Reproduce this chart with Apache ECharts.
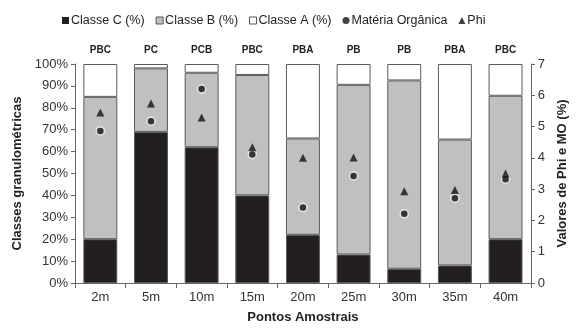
<!DOCTYPE html>
<html><head><meta charset="utf-8">
<script src="https://cdn.jsdelivr.net/npm/echarts@6/dist/echarts.min.js"></script>
<style>html,body{margin:0;padding:0;background:#fff}#c{width:577px;height:329px}</style>
</head><body><div id="c"></div>
<script>
const categories = ['2m','5m','10m','15m','20m','25m','30m','35m','40m'];
const topLabels = ['PBC','PC','PCB','PBC','PBA','PB','PB','PBA','PBC'];
const classeC = [20, 69, 62, 40, 22, 13, 6.5, 8, 20];
const classeB = [65, 29, 34, 55, 44, 77.5, 86, 57.5, 65.5];
const classeA = [15, 2, 4, 5, 34, 9.5, 7.5, 34.5, 14.5];
const materiaOrganica = [4.86, 5.17, 6.2, 4.11, 2.41, 3.42, 2.21, 2.71, 3.32];
const phi = [5.45, 5.74, 5.29, 4.34, 4.0, 4.01, 2.93, 2.97, 3.5];
const leftTicks = [0,10,20,30,40,50,60,70,80,90,100];

const font = 'Liberation Sans, Arial, sans-serif';
const chart = echarts.init(document.getElementById('c'), null, {renderer:'canvas'});
const barStyle = (c) => ({color:c, borderColor:'#5a5a5a', borderWidth:1});
chart.setOption({
  animation:false,
  textStyle:{fontFamily:font},
  legend:{
    top:9, left:57, itemGap:11, itemWidth:7, itemHeight:7,
    textStyle:{fontFamily:font, fontSize:12.5, color:'#222', padding:[0,0,0,-3]},
    data:[
      {name:'Classe C (%)', icon:'rect', itemStyle:{color:'#231f20', borderColor:'#231f20', borderWidth:0}},
      {name:'Classe B (%)', icon:'rect', itemStyle:{color:'#c0c0c0', borderColor:'#555', borderWidth:1}},
      {name:'Classe A (%)', icon:'rect', itemStyle:{color:'#fff', borderColor:'#555', borderWidth:1}},
      {name:'Matéria Orgânica', icon:'circle', itemStyle:{color:'#111', borderWidth:0}},
      {name:'Phi', icon:'triangle', itemStyle:{color:'#111', borderWidth:0}}
    ]
  },
  grid:{left:75, right:44, top:64, bottom:43},
  xAxis:[{
    type:'category', data:categories,
    name:'Pontos Amostrais', nameLocation:'middle', nameGap:28,
    nameTextStyle:{fontFamily:font, fontSize:13, fontWeight:'bold', color:'#222'},
    axisLine:{lineStyle:{color:'#666'}},
    axisTick:{show:true, length:5, lineStyle:{color:'#666'}},
    axisLabel:{fontFamily:font, fontSize:13, color:'#333', margin:8}
  },{
    type:'category', data:topLabels, position:'top',
    axisLine:{show:false}, axisTick:{show:false},
    axisLabel:{fontFamily:font, fontSize:10, fontWeight:'bold', color:'#222', margin:9}
  }],
  yAxis:[{
    type:'value', min:0, max:100, interval:10,
    name:'Classes granulométricas', nameLocation:'middle', nameGap:38, nameRotate:90,
    nameTextStyle:{fontFamily:font, fontSize:13, fontWeight:'bold', color:'#222'},
    axisLine:{show:true, lineStyle:{color:'#666'}},
    axisTick:{show:true, length:4, lineStyle:{color:'#666'}},
    splitLine:{show:false},
    axisLabel:{fontFamily:font, fontSize:13, color:'#333', margin:7,
      formatter:(v)=> leftTicks.includes(v) ? v + '%' : ''}
  },{
    type:'value', min:0, max:7, interval:1, position:'right',
    name:'Valores de Phi e MO (%)', nameLocation:'middle', nameGap:24, nameRotate:90,
    nameTextStyle:{fontFamily:font, fontSize:13, fontWeight:'bold', color:'#222'},
    axisLine:{show:true, lineStyle:{color:'#666'}},
    axisTick:{show:true, length:4, lineStyle:{color:'#666'}},
    splitLine:{show:false},
    axisLabel:{fontFamily:font, fontSize:13, color:'#333', margin:7}
  }],
  series:[
    {name:'Classe C (%)', type:'bar', stack:'g', data:classeC, barCategoryGap:'33%', itemStyle:barStyle('#231f20')},
    {name:'Classe B (%)', type:'bar', stack:'g', data:classeB, itemStyle:barStyle('#c0c0c0')},
    {name:'Classe A (%)', type:'bar', stack:'g', data:classeA, itemStyle:barStyle('#ffffff')},
    {name:'Matéria Orgânica', type:'scatter', yAxisIndex:1, data:materiaOrganica, symbol:'circle', symbolSize:8,
      itemStyle:{color:'#111', borderColor:'#fff', borderWidth:1.5}, z:5},
    {name:'Phi', type:'scatter', yAxisIndex:1, data:phi, symbol:'triangle', symbolSize:8,
      itemStyle:{color:'#111'}, z:5}
  ]
});
</script></body></html>
